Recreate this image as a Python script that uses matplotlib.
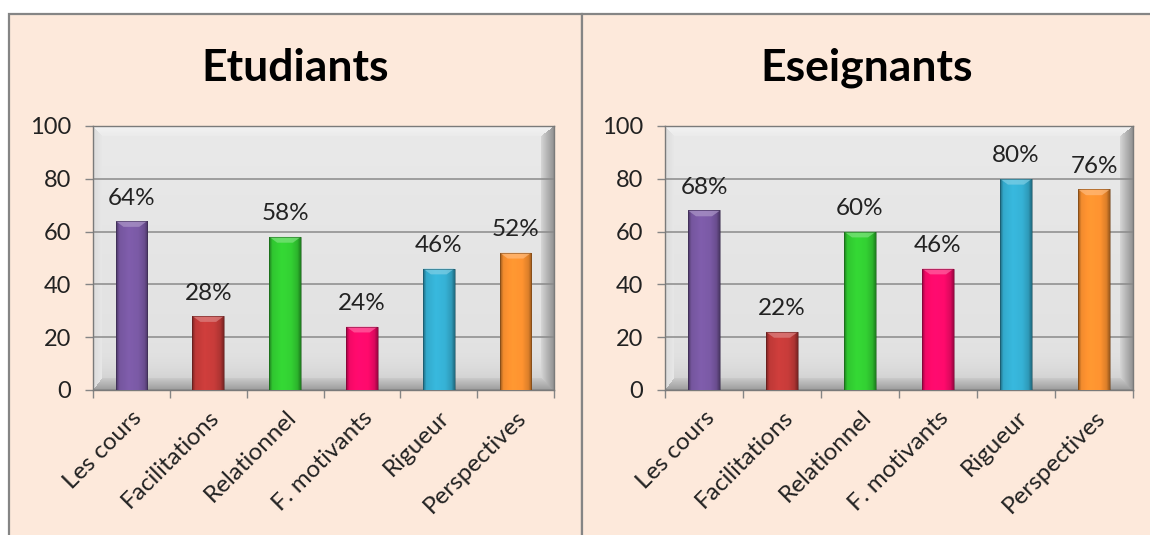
import numpy as np
import matplotlib
matplotlib.use("Agg")
import matplotlib.pyplot as plt
from matplotlib.patches import Rectangle, Polygon

plt.rcParams['font.family'] = ['Lato', 'DejaVu Sans']

categories = ['Les cours', 'Facilitations', 'Relationnel', 'F. motivants', 'Rigueur', 'Perspectives']
etudiants = [64, 28, 58, 24, 46, 52]
enseignants = [68, 22, 60, 46, 80, 76]
titles = ['Etudiants', 'Eseignants']
bar_colors = ['#7b5aa6', '#c83c3a', '#33d133', '#ff0a6c', '#36b2d6', '#ff9330']

PEACH = '#fde9db'
FRAME = '#858585'
W, H = 1150, 535


def frame_image(wpx, hpx):
    # gray plot area with a bevelled edge, built pixel by pixel
    yy, xx = np.mgrid[0:hpx, 0:wpx].astype(float)
    img = 0.915 - 0.035 * (yy / hpx)
    shadow = np.clip((yy - (hpx - 45)) / 45, 0, 1)
    img = img - 0.10 * shadow ** 2
    bt, bl, br, bb = 10, 9, 13, 12
    d = {'t': yy / bt, 'l': xx / bl, 'r': (wpx - 1 - xx) / br, 'b': (hpx - 1 - yy) / bb}
    stack = np.stack([d['t'], d['l'], d['r'], d['b']])
    side = np.argmin(stack, axis=0)
    val = np.min(stack, axis=0)
    inb = val < 1
    t = np.clip(val, 0, 1)
    shades = [0.95 - 0.03 * t, 0.86 + 0.05 * t, 0.58 + 0.27 * t, 0.62 + 0.18 * t]
    for k in range(4):
        m = inb & (side == k)
        img[m] = shades[k][m]
    return np.dstack([img, img, img])


def shade_bar(ax, bar, color):
    rgb = np.array(matplotlib.colors.to_rgb(color))
    prof = np.interp(np.linspace(0, 1, 60), [0, 0.1, 0.4, 0.7, 0.9, 1.0],
                     [0.6, 0.95, 1.04, 1.0, 0.86, 0.6])
    img = np.clip(rgb[None, :] * prof[:, None], 0, 1)[None, :, :]
    x0, w, h = bar.get_x(), bar.get_width(), bar.get_height()
    im = ax.imshow(img, extent=[x0, x0 + w, 0, h], aspect='auto', zorder=3,
                   interpolation='bilinear')
    im.set_clip_path(bar)
    # light top facet
    cap = 2.2
    light = np.clip(rgb * 0.6 + 0.4, 0, 1)
    ax.add_patch(Polygon([(x0, h), (x0 + w, h), (x0 + w * 0.75, h - cap), (x0 + w * 0.25, h - cap)],
                         closed=True, facecolor=light, edgecolor='none', alpha=0.65, zorder=4))
    ax.add_patch(Rectangle((x0, 0), w, h, facecolor='none', edgecolor=rgb * 0.45,
                           linewidth=0.6, alpha=0.6, zorder=5))


fig = plt.figure(figsize=(W / 100, H / 100), dpi=100)
fig.patch.set_facecolor('white')

panels = [(9, 582), (582, 1152)]
for (x0, x1) in panels:
    fig.patches.append(Rectangle((x0 / W, -0.05), (x1 - x0) / W, (H - 14) / H + 0.05,
                                 transform=fig.transFigure, facecolor=PEACH,
                                 edgecolor=FRAME, linewidth=1.6, zorder=-5))

axes_px = [(93, 554), (665, 1133)]
top_px, bot_px = 126, 390
series = [etudiants, enseignants]

for i, (xa, xb) in enumerate(axes_px):
    ax = fig.add_axes([xa / W, (H - bot_px) / H, (xb - xa) / W, (bot_px - top_px) / H])
    ax.patch.set_alpha(0)
    ax.imshow(frame_image(xb - xa, bot_px - top_px), extent=[-0.5, len(categories) - 0.5, 0, 100],
              aspect='auto', zorder=0)
    ax.set_yticks(range(0, 101, 20))
    ax.yaxis.grid(True, color='#8a8a8a', linewidth=1.1, zorder=1)
    ax.set_axisbelow(True)
    bars = ax.bar(range(len(categories)), series[i], width=0.41, color=bar_colors,
                  edgecolor='none', zorder=2)
    for b, c, v in zip(bars, bar_colors, series[i]):
        shade_bar(ax, b, c)
        ax.annotate(f'{v}%', (b.get_x() + b.get_width() / 2, v), xytext=(0, 9),
                    textcoords='offset points', ha='center', va='bottom',
                    fontsize=17.5, color='#222222')
    ax.set_xlim(-0.5, len(categories) - 0.5)
    ax.set_ylim(0, 100)
    ax.set_xticks(range(len(categories)))
    ax.set_xticklabels(categories, rotation=45, ha='right', rotation_mode='anchor',
                       fontsize=17.5, color='#222222')
    ax.set_xticks(np.arange(-0.5, len(categories), 1), minor=True)
    ax.tick_params(axis='x', which='major', length=0, pad=12)
    ax.tick_params(axis='x', which='minor', length=6, color=FRAME, width=1)
    ax.tick_params(axis='y', length=6, color=FRAME, width=1, pad=10, labelsize=17,
                   labelcolor='#222222')
    for s in ax.spines.values():
        s.set_color('#7a7a7a')
        s.set_linewidth(1)
    cx = (panels[i][0] + panels[i][1]) / 2 / W
    fig.text(cx, 1 - 68 / H, titles[i], ha='center', va='center', fontsize=32,
             fontweight='bold', color='black')

fig.savefig('out.png', dpi=100)
